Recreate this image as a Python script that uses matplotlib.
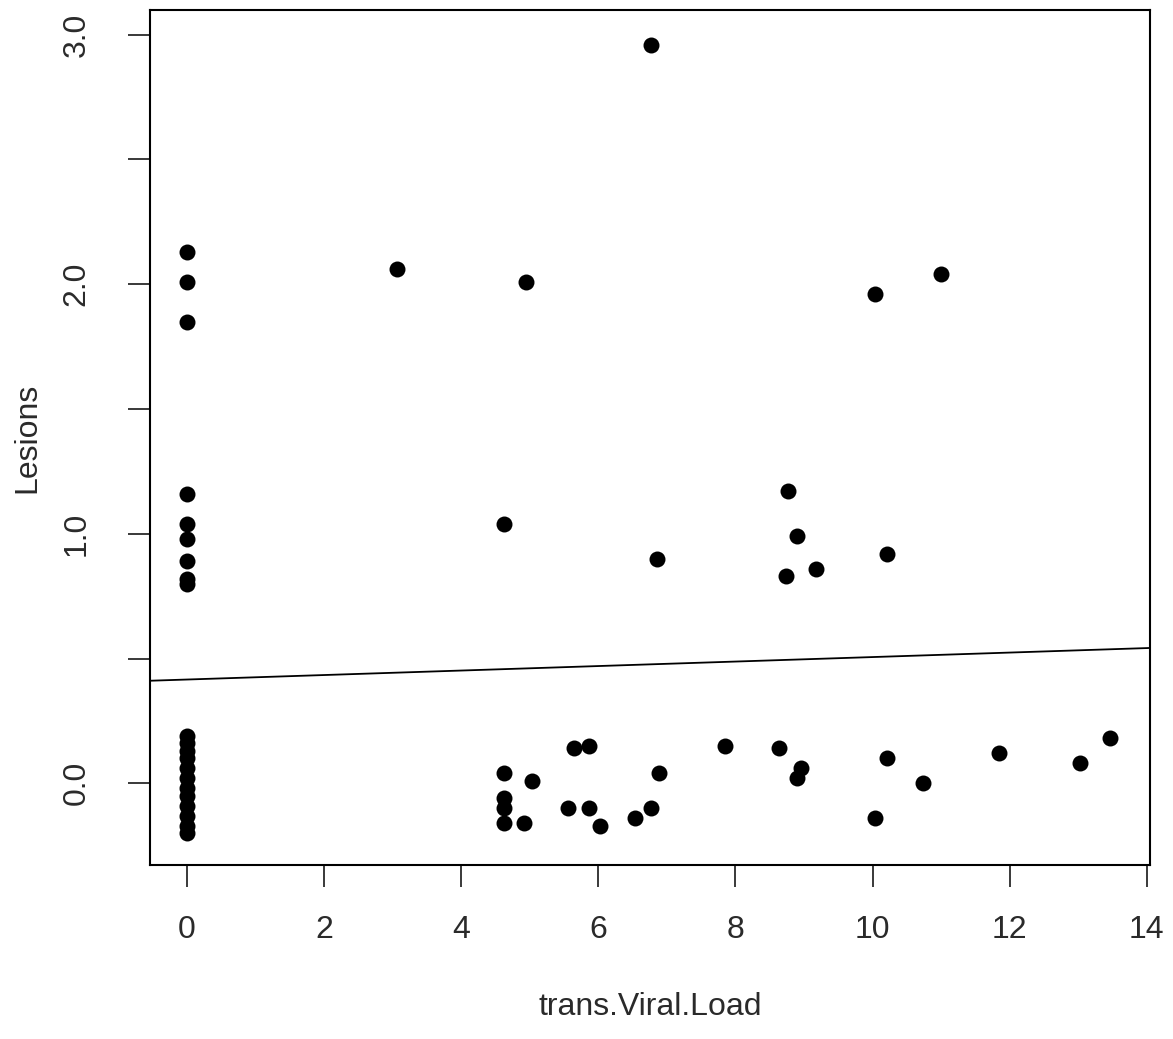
import numpy as np
import matplotlib
matplotlib.use("Agg")
import matplotlib.pyplot as plt

plt.rcParams['font.family'] = ['Liberation Sans', 'DejaVu Sans']

# trans.Viral.Load vs Lesions (jittered)
viral_zero = [0.0] * 21
lesions_zero = [2.13, 2.01, 1.85,
                1.16, 1.04, 0.98, 0.89, 0.82, 0.80,
                0.19, 0.16, 0.13, 0.10, 0.06, 0.02, -0.02, -0.05, -0.09, -0.13, -0.17, -0.20]

viral_pos = [3.06, 4.95, 6.77, 10.04, 11.00,
             4.62, 6.85, 8.77, 8.90, 8.74, 9.18, 10.21,
             4.62, 5.03, 4.62, 4.62, 4.62, 4.92, 5.64, 5.86, 5.55, 5.86, 6.03, 6.53,
             6.77, 6.89, 7.84, 8.64, 8.95, 8.90, 10.21, 10.04, 10.74, 11.84, 13.02, 13.46]
lesions_pos = [2.06, 2.01, 2.96, 1.96, 2.04,
               1.04, 0.90, 1.17, 0.99, 0.83, 0.86, 0.92,
               0.04, 0.01, -0.06, -0.10, -0.16, -0.16, 0.14, 0.15, -0.10, -0.10, -0.17, -0.14,
               -0.10, 0.04, 0.15, 0.14, 0.06, 0.02, 0.10, -0.14, 0.00, 0.12, 0.08, 0.18]

x = np.array(viral_zero + viral_pos)
y = np.array(lesions_zero + lesions_pos)

# fitted line (abline of lm)
fit_intercept = 0.416
fit_slope = 0.009

fig = plt.figure(figsize=(11.73, 10.39), dpi=100)
ax = fig.add_axes([0.1279, 0.1675, 0.8521, 0.8225])

ax.plot(x, y, 'o', color='black', markersize=11.5, markeredgewidth=0)

xmin, xmax = -0.54, 14.04
ax.set_xlim(xmin, xmax)
ax.set_ylim(-0.327, 3.097)
xs = np.array([xmin, xmax])
ax.plot(xs, fit_intercept + fit_slope * xs, color='black', linewidth=1.3)

ax.set_xticks(range(0, 15, 2))
ax.set_xticklabels([str(v) for v in range(0, 15, 2)])
yt = np.arange(0, 3.01, 0.5)
ax.set_yticks(yt)
ax.set_yticklabels(["0.0", "", "1.0", "", "2.0", "", "3.0"], rotation=90, va='center')

for s in ax.spines.values():
    s.set_linewidth(1.5)
ax.tick_params(axis='both', length=16, width=1.3, labelsize=23, colors='#2a2a2a')
ax.tick_params(axis='x', pad=20)
ax.tick_params(axis='y', pad=26)

ax.set_xlabel("trans.Viral.Load", fontsize=23, labelpad=34, color='#2a2a2a')
ax.set_ylabel("Lesions", fontsize=23, labelpad=14, color='#2a2a2a')

fig.savefig("out.png", dpi=100)
